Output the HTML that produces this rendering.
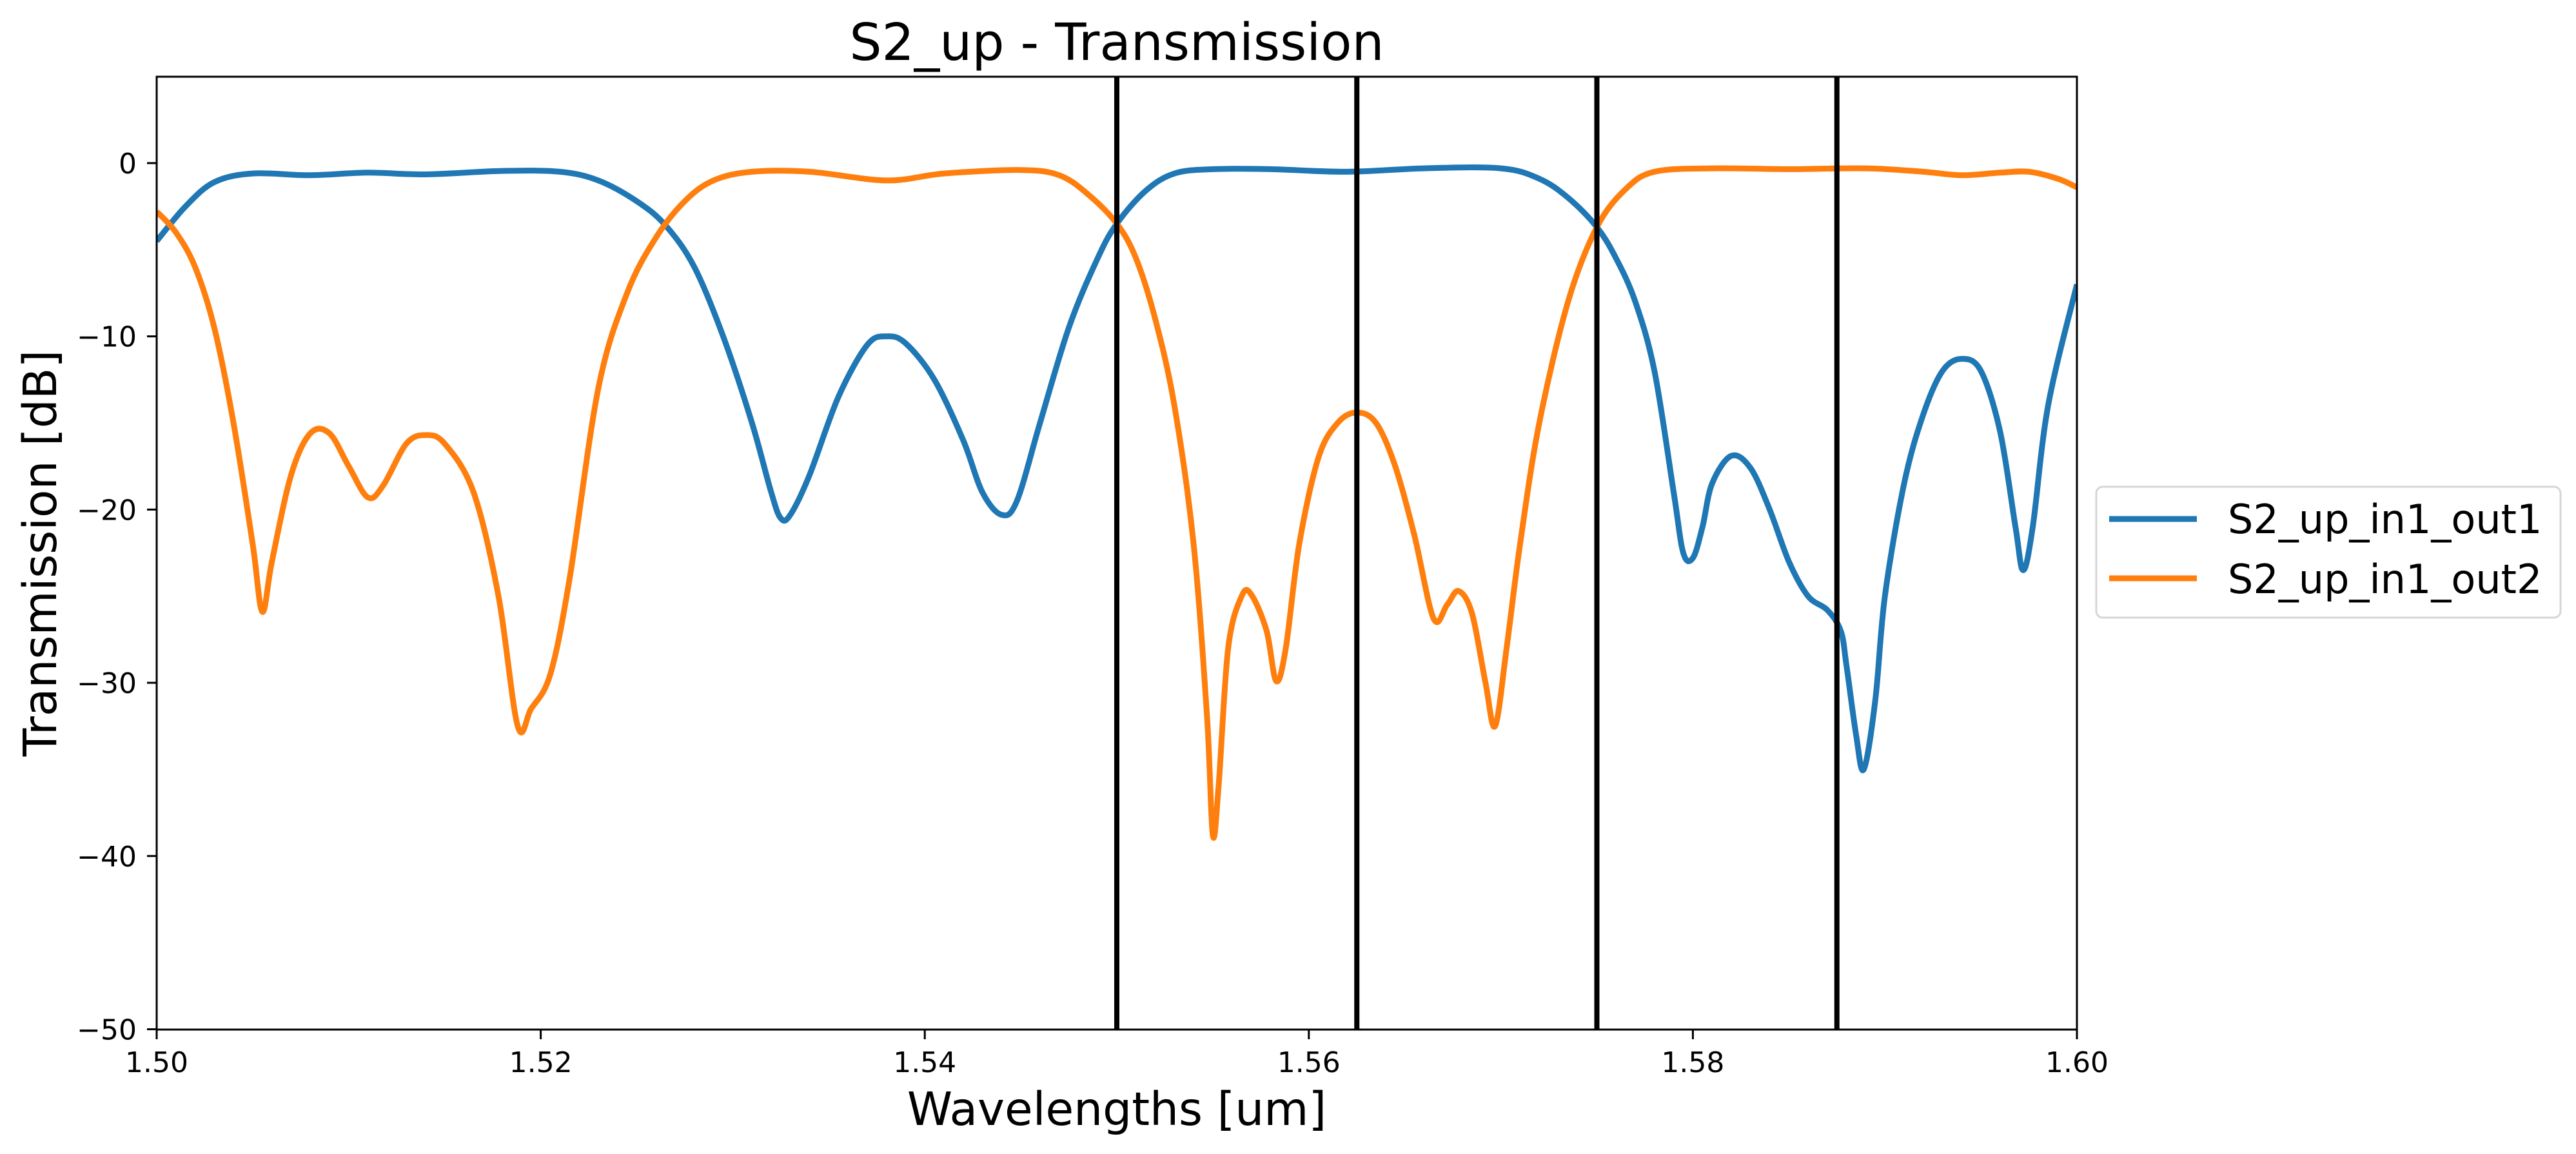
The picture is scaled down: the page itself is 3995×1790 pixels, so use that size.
<!DOCTYPE html>
<html><head><meta charset="utf-8"><style>html,body{margin:0;padding:0;background:#fff}svg{display:block}</style></head>
<body>
<svg id="s" width="3995" height="1790" xmlns="http://www.w3.org/2000/svg" font-family="'DejaVu Sans','Liberation Sans',sans-serif">
<defs><clipPath id="c"><rect x="243" y="119" width="2978" height="1478"/></clipPath></defs>
<rect width="3995" height="1790" fill="#fff"/>
<g id="curves" clip-path="url(#c)"></g>
<g stroke="#000" stroke-width="8" id="vl"></g>
<rect x="243" y="119" width="2978" height="1478" fill="none" stroke="#000" stroke-width="3"/>
<g id="ticks" stroke="#000" stroke-width="3"></g>
<g id="tl" font-size="44" fill="#000"></g>
<text x="1732" y="93" font-size="79" text-anchor="middle">S2_up - Transmission</text>
<text x="1732" y="1745" font-size="71" text-anchor="middle">Wavelengths [um]</text>
<text transform="translate(87,858) rotate(-90)" font-size="71" text-anchor="middle">Transmission [dB]</text>
<rect x="3251" y="755" width="720" height="203" rx="10" fill="#fff" stroke="#d6d6d6" stroke-width="3"/>
<line x1="3271" y1="805" x2="3407" y2="805" stroke="#1f77b4" stroke-width="9"/>
<line x1="3271" y1="897" x2="3407" y2="897" stroke="#ff7f0e" stroke-width="9"/>
<text x="3455" y="827" font-size="62">S2_up_in1_out1</text>
<text x="3455" y="920" font-size="62">S2_up_in1_out2</text>
</svg>
<script>
const X=w=>243+(w-1.5)*29780, Y=d=>253-d*26.87, NS="http://www.w3.org/2000/svg";
function el(p,t,a,txt){const e=document.createElementNS(NS,t);for(const k in a)e.setAttribute(k,a[k]);if(txt!==undefined)e.textContent=txt;p.appendChild(e);return e;}
const blue=[1.500,-4.5,1.5015,-2.5,1.503,-1.1,1.505,-0.6,1.508,-0.7,1.511,-0.55,1.514,-0.65,1.518,-0.45,1.521,-0.5,1.523,-1.0,1.525,-2.2,1.5265,-3.6,1.528,-6,1.5295,-10,1.531,-15,1.532,-19,1.5325,-20.5,1.533,-20.3,1.534,-18,1.5355,-13.5,1.537,-10.5,1.538,-10,1.539,-10.4,1.5405,-12.5,1.542,-16,1.543,-19,1.544,-20.3,1.5448,-19.5,1.546,-15,1.5475,-9.5,1.549,-5.5,1.550,-3.5,1.5515,-1.6,1.553,-0.6,1.555,-0.35,1.558,-0.35,1.562,-0.5,1.566,-0.3,1.570,-0.3,1.572,-0.9,1.5735,-2,1.575,-3.7,1.576,-5.5,1.577,-8,1.578,-12,1.579,-19,1.5795,-22.5,1.580,-22.8,1.5805,-21,1.581,-18.5,1.582,-16.9,1.583,-17.6,1.584,-20,1.585,-23,1.586,-25,1.587,-25.8,1.5877,-27,1.588,-29,1.5885,-33,1.5889,-35,1.5895,-31,1.590,-25,1.591,-18.5,1.592,-14.5,1.593,-12,1.594,-11.3,1.595,-12,1.596,-15.5,1.5968,-21,1.5972,-23.5,1.5977,-21,1.5985,-14,1.600,-7];
const orange=[1.500,-2.8,1.501,-4,1.502,-6,1.503,-9.5,1.504,-15,1.505,-22,1.5055,-25.9,1.506,-23,1.507,-18,1.508,-15.6,1.509,-15.6,1.510,-17.5,1.511,-19.3,1.5118,-18.6,1.513,-16.2,1.514,-15.7,1.515,-16.2,1.5165,-19,1.5178,-25,1.5188,-32.5,1.5195,-31.5,1.5205,-29.5,1.5215,-24,1.523,-13,1.5245,-7.5,1.526,-4.3,1.5275,-2.2,1.529,-1,1.531,-0.5,1.534,-0.5,1.538,-1,1.541,-0.6,1.545,-0.4,1.547,-0.7,1.5485,-1.8,1.550,-3.5,1.551,-5.5,1.552,-9,1.553,-14,1.554,-22,1.5547,-32,1.555,-38.8,1.5553,-36,1.5558,-28,1.5565,-25,1.5570,-24.9,1.5578,-27,1.5583,-29.9,1.5588,-28,1.5595,-22,1.5605,-17,1.5615,-15,1.5625,-14.4,1.5635,-15,1.5645,-17.5,1.5655,-21.5,1.5665,-26.3,1.5672,-25.5,1.5678,-24.7,1.5685,-26,1.5692,-30,1.5697,-32.5,1.5703,-28,1.571,-22,1.572,-15,1.5735,-8,1.575,-3.7,1.5765,-1.5,1.578,-0.5,1.581,-0.3,1.585,-0.35,1.589,-0.3,1.592,-0.5,1.594,-0.7,1.596,-0.55,1.5975,-0.5,1.599,-0.9,1.600,-1.4];
function path(a){const p=[];for(let i=0;i<a.length;i+=2)p.push([X(a[i]),Y(a[i+1])]);
let d="M"+p[0][0].toFixed(1)+","+p[0][1].toFixed(1);
for(let i=0;i<p.length-1;i++){const p0=p[Math.max(0,i-1)],p1=p[i],p2=p[i+1],p3=p[Math.min(p.length-1,i+2)];
const c1=[p1[0]+(p2[0]-p0[0])/6,p1[1]+(p2[1]-p0[1])/6],c2=[p2[0]-(p3[0]-p1[0])/6,p2[1]-(p3[1]-p1[1])/6];
d+="C"+c1.map(v=>v.toFixed(1))+" "+c2.map(v=>v.toFixed(1))+" "+p2.map(v=>v.toFixed(1));}return d;}
const g=document.getElementById("curves");
el(g,"path",{d:path(blue),fill:"none",stroke:"#1f77b4","stroke-width":9,"stroke-linejoin":"round"});
el(g,"path",{d:path(orange),fill:"none",stroke:"#ff7f0e","stroke-width":9,"stroke-linejoin":"round"});
const vl=document.getElementById("vl");
[1.55,1.5625,1.575,1.5875].forEach(w=>el(vl,"line",{x1:X(w),x2:X(w),y1:119,y2:1597}));
const tk=document.getElementById("ticks"),tl=document.getElementById("tl");
for(let i=0;i<=5;i++){const w=1.5+i*0.02,x=X(w);el(tk,"line",{x1:x,x2:x,y1:1597,y2:1612});
el(tl,"text",{x:x,y:1663,"text-anchor":"middle"},w.toFixed(2));}
for(let k=0;k<=5;k++){const v=-10*k,y=Y(v);el(tk,"line",{x1:228,x2:243,y1:y,y2:y});
el(tl,"text",{x:212,y:y+16,"text-anchor":"end"},v===0?"0":"\u2212"+(-v));}
</script>
</body></html>
